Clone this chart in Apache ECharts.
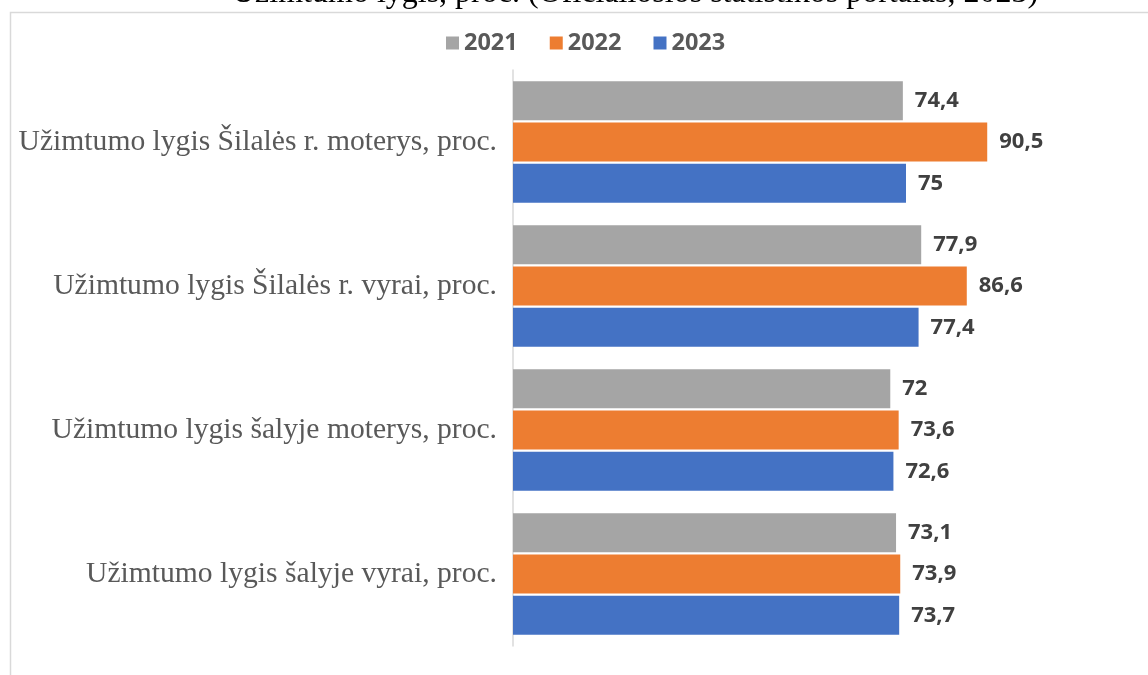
<!DOCTYPE html>
<html>
<head>
<meta charset="utf-8">
<script src="https://cdn.jsdelivr.net/npm/echarts@6/dist/echarts.min.js"></script>
<style>html,body{margin:0;padding:0;background:#fff;}#c{width:1148px;height:675px;}</style>
</head>
<body>
<div id="c"></div>
<script>
const titleText = 'Užimtumo lygis, proc. (Oficialiosios statistikos portalas, 2023)';
const categories = [
  'Užimtumo lygis Šilalės r. moterys, proc.',
  'Užimtumo lygis Šilalės r. vyrai, proc.',
  'Užimtumo lygis šalyje moterys, proc.',
  'Užimtumo lygis šalyje vyrai, proc.'
];
const seriesNames = ['2021', '2022', '2023'];
const values2021 = [74.4, 77.9, 72, 73.1];
const values2022 = [90.5, 86.6, 73.6, 73.9];
const values2023 = [75, 77.4, 72.6, 73.7];
const colors = ['#A5A5A5', '#ED7D31', '#4472C4'];

const chart = echarts.init(document.getElementById('c'));
const allValues = [values2021, values2022, values2023];
chart.setOption({
  animation: false,
  graphic: [
    { type: 'polyline', shape: { points: [[10.5, 675], [10.5, 12.5], [1148, 12.5]] },
      style: { stroke: '#d9d9d9', lineWidth: 1.5, fill: null } },
    { type: 'text', left: 232, top: -22,
      style: { text: titleText, font: '32px "Liberation Serif", "Times New Roman", serif', fill: '#000' } }
  ],
  legend: {
    top: 26, left: 441,
    itemWidth: 13, itemHeight: 13, itemGap: 32,
    icon: 'rect',
    textStyle: { fontFamily: '"Open Sans", sans-serif', fontWeight: 'bold', fontSize: 23.5, color: '#595959' },
    data: seriesNames
  },
  grid: { left: 513, top: 70, width: 524, height: 576, containLabel: false },
  xAxis: { type: 'value', min: 0, max: 100, show: false },
  yAxis: {
    type: 'category', inverse: true, data: categories,
    axisLine: { show: true, lineStyle: { color: '#d9d9d9', width: 1.5 } },
    axisTick: { show: false },
    axisLabel: { margin: 16, fontFamily: '"Liberation Serif", "Times New Roman", serif', fontSize: 29.6, color: '#595959' }
  },
  series: seriesNames.map((n, i) => ({
    name: n, type: 'bar', data: allValues[i],
    barWidth: 39, barGap: '6%',
    itemStyle: { color: colors[i] },
    label: {
      show: true, position: 'right', distance: 12,
      fontFamily: '"Open Sans", sans-serif', fontWeight: 'bold', fontSize: 22, color: '#404040',
      formatter: p => String(p.value).replace('.', ',')
    }
  }))
});
</script>
</body>
</html>
